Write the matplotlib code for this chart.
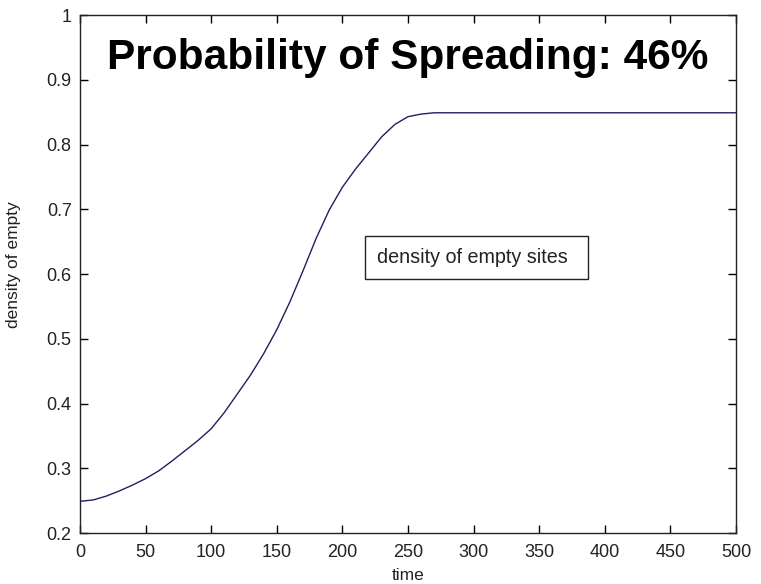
# Density of empty sites over time (MATLAB-style figure)
import matplotlib
matplotlib.use("Agg")
import matplotlib.pyplot as plt

# ----- Data ----- #
time = [0, 10, 20, 30, 40, 50, 60, 70, 80, 90, 100, 110, 120, 130, 140,
        150, 160, 170, 180, 190, 200, 210, 220, 230, 240, 250, 260, 270,
        300, 350, 400, 450, 500]
density = [0.249, 0.251, 0.257, 0.265, 0.274, 0.284, 0.296, 0.311, 0.327,
           0.343, 0.361, 0.386, 0.415, 0.444, 0.477, 0.514, 0.557, 0.605,
           0.655, 0.699, 0.734, 0.762, 0.787, 0.812, 0.831, 0.843, 0.847,
           0.849, 0.849, 0.849, 0.849, 0.849, 0.849]

x_ticks = [0, 50, 100, 150, 200, 250, 300, 350, 400, 450, 500]
y_ticks = [0.2, 0.3, 0.4, 0.5, 0.6, 0.7, 0.8, 0.9, 1.0]
y_labels = ["0.2", "0.3", "0.4", "0.5", "0.6", "0.7", "0.8", "0.9", "1"]

plt.rcParams['font.family'] = ['Liberation Sans', 'DejaVu Sans']

# ----- Figure ----- #
fig = plt.figure(figsize=(7.61, 5.84), dpi=100)
ax = fig.add_axes([0.1051, 0.0873, 0.8620, 0.8870])

ax.plot(time, density, color='#1f1f5f', lw=1.0, label='density of empty sites')

ax.set_xlim(0, 500)
ax.set_ylim(0.2, 1.0)
ax.set_xticks(x_ticks)
ax.set_yticks(y_ticks)
ax.set_yticklabels(y_labels)
ax.tick_params(direction='in', top=True, right=True, length=6, width=1,
               labelsize=13, labelcolor='#222222')
ax.tick_params(axis='x', pad=8)
ax.tick_params(axis='y', pad=6)
for s in ax.spines.values():
    s.set_linewidth(1.0)
    s.set_color('#222222')

ax.set_xlabel("time", fontsize=12.5, color='#222222', labelpad=5)
ax.set_ylabel("density of empty", fontsize=12.5, color='#222222', va='center')
ax.yaxis.set_label_coords(-0.1006, 0.5174)

# Legend without a visible line sample, like the original
leg = ax.legend(loc='center', bbox_to_anchor=(0.6044, 0.532), handlelength=0.3,
                handletextpad=0.1, markerfirst=False, fontsize=14.2,
                fancybox=False, framealpha=1, edgecolor='#222222',
                borderpad=0.6, borderaxespad=0)
leg.get_frame().set_linewidth(1.0)
leg.legend_handles[0].set_visible(False)
for t in leg.get_texts():
    t.set_color('#222222')

ax.text(0.5, 0.896, "Probability of Spreading: 46%", transform=ax.transAxes,
        ha='center', va='baseline', fontsize=30.5, fontweight='bold', color='black')

fig.savefig("out.png", dpi=100)
